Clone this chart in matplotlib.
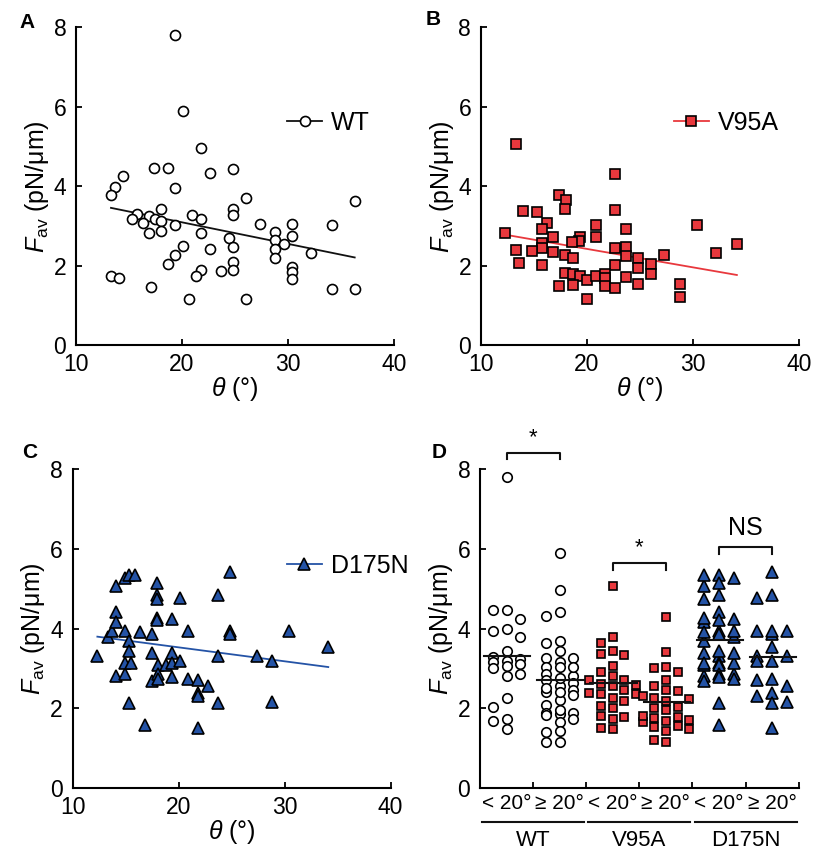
import numpy as np
import matplotlib
matplotlib.use('Agg')
import matplotlib.pyplot as plt
from matplotlib.lines import Line2D
from matplotlib import transforms

plt.rcParams['font.family'] = ['Liberation Sans', 'DejaVu Sans']
plt.rcParams['mathtext.fontset'] = 'custom'
plt.rcParams['mathtext.rm'] = 'Liberation Sans'
plt.rcParams['mathtext.it'] = 'Liberation Sans:italic'

# ── Data (theta in degrees, F_av in pN/um) ─────────────────────────────────
wt_theta = [19.33, 20.08, 21.75, 17.38, 18.64, 22.69, 24.83, 14.43, 13.68, 13.30,
            19.36, 26.02, 36.30, 17.98, 15.78, 15.28, 16.85, 17.45, 16.28, 17.98,
            16.85, 17.98, 19.36, 20.90, 21.75, 21.75, 24.83, 24.83, 27.34, 30.39,
            34.13, 28.82, 28.82, 29.60, 28.82, 28.82, 30.39, 24.45, 24.83, 22.69,
            20.08, 19.36, 18.64, 32.15, 21.84, 21.37, 23.73, 24.83, 24.83, 30.39,
            30.39, 30.39, 13.30, 14.05, 17.10, 20.71, 26.02, 34.13, 36.30]
wt_force = [7.81, 5.90, 4.97, 4.46, 4.46, 4.33, 4.42, 4.25, 3.99, 3.78,
            3.95, 3.69, 3.63, 3.43, 3.29, 3.18, 3.25, 3.17, 3.07, 3.12,
            2.82, 2.86, 3.02, 3.27, 3.17, 2.82, 3.43, 3.27, 3.04, 3.05,
            3.03, 2.85, 2.64, 2.55, 2.41, 2.20, 2.75, 2.70, 2.47, 2.42,
            2.50, 2.26, 2.04, 2.33, 1.88, 1.73, 1.87, 2.09, 1.88, 1.96,
            1.83, 1.66, 1.74, 1.68, 1.47, 1.15, 1.15, 1.40, 1.42]

v95a_theta = [13.30, 22.63, 17.35, 18.00, 17.95, 14.00, 15.31, 22.63, 16.25, 15.72,
              12.29, 20.84, 20.84, 23.67, 30.36, 16.82, 19.33, 19.27, 18.58, 15.72,
              15.72, 13.30, 14.80, 16.82, 17.95, 18.64, 22.63, 23.67, 23.67, 24.80,
              24.80, 26.00, 26.00, 27.28, 32.15, 13.61, 15.72, 22.63, 17.95, 18.64,
              19.33, 20.02, 20.84, 21.72, 21.72, 21.72, 22.63, 23.67, 24.80, 17.35,
              18.64, 20.02, 28.76, 28.76, 34.15]
v95a_force = [5.06, 4.30, 3.78, 3.65, 3.43, 3.37, 3.34, 3.41, 3.07, 2.91,
              2.81, 3.02, 2.72, 2.92, 3.03, 2.72, 2.71, 2.62, 2.59, 2.57,
              2.45, 2.39, 2.36, 2.35, 2.27, 2.19, 2.44, 2.47, 2.24, 2.19,
              1.95, 2.03, 1.78, 2.26, 2.32, 2.07, 2.01, 2.01, 1.82, 1.78,
              1.73, 1.65, 1.75, 1.80, 1.68, 1.49, 1.43, 1.72, 1.53, 1.49,
              1.51, 1.16, 1.55, 1.21, 2.55]

d175n_theta = [12.33, 13.36, 13.68, 14.06, 14.06, 14.06, 14.06, 14.94, 14.94, 14.94,
               15.31, 15.88, 15.31, 15.31, 14.94, 15.47, 15.35, 16.35, 16.82, 17.45,
               17.45, 17.45, 17.99, 17.99, 17.99, 17.99, 17.99, 18.08, 18.08, 18.08,
               18.77, 19.34, 19.34, 19.34, 19.34, 20.13, 20.13, 20.85, 20.85, 21.79,
               21.79, 21.85, 21.79, 22.74, 23.74, 23.74, 23.74, 24.84, 24.84, 24.84,
               27.36, 28.84, 28.84, 30.44, 34.12]
d175n_force = [3.32, 3.80, 3.93, 4.43, 4.16, 5.08, 2.80, 2.87, 3.93, 5.27,
               5.35, 5.35, 3.68, 3.43, 3.15, 3.15, 2.13, 3.91, 1.59, 3.86,
               3.40, 2.68, 5.14, 4.85, 4.74, 4.26, 4.21, 3.09, 2.87, 2.73,
               3.09, 4.25, 3.39, 3.15, 2.78, 4.77, 3.20, 3.93, 2.73, 2.72,
               2.38, 2.30, 1.51, 2.55, 4.85, 3.32, 2.13, 5.41, 3.93, 3.86,
               3.32, 3.20, 2.17, 3.93, 3.53]

GROUPS = ['WT', 'V95A', 'D175N']
CAT_LABELS = ['< 20°', '≥ 20°']
THETA_SPLIT = 20
SIG_LABELS = ['*', '*', 'NS']

RED = '#e8383d'
BLUE = '#2453a6'

styles = {
    'WT': dict(marker='o', mfc='white', line='#111111', ms=7.2, ncols=3, spacing=0.25),
    'V95A': dict(marker='s', mfc=RED, line=RED, ms=6.8, ncols=5, spacing=0.22),
    'D175N': dict(marker='^', mfc=BLUE, line=BLUE, ms=8.5, ncols=3, spacing=0.28),
}
data = {
    'WT': (np.array(wt_theta), np.array(wt_force)),
    'V95A': (np.array(v95a_theta), np.array(v95a_force)),
    'D175N': (np.array(d175n_theta), np.array(d175n_force)),
}

TICK_FS = 16.5
LABEL_FS = 18


def style_axes(ax):
    for side in ['top', 'right']:
        ax.spines[side].set_visible(False)
    for side in ['left', 'bottom']:
        ax.spines[side].set_linewidth(1.5)
    ax.tick_params(direction='in', length=4, width=1.3, labelsize=TICK_FS, pad=6)
    ax.tick_params(axis='y', pad=7)
    ax.set_ylim(0, 8)
    ax.set_yticks([0, 2, 4, 6, 8])
    ax.set_ylabel(r'$F_{\rm av}$ (pN/μm)', fontsize=LABEL_FS, labelpad=2)


def column_offsets(values, ncols, spacing, min_gap):
    """Place points into columns so that close values don't sit on top of each other."""
    cols = [0]
    for k in range(1, ncols // 2 + 1):
        cols += [-k, k]
    placed = {c: [] for c in cols}
    xs = np.zeros(len(values))
    for i in np.argsort(values)[::-1]:
        v = values[i]
        chosen = None
        for c in cols:
            if all(abs(v - u) >= min_gap for u in placed[c]):
                chosen = c
                break
        if chosen is None:
            chosen = max(cols, key=lambda c: min(abs(v - u) for u in placed[c]))
        placed[chosen].append(v)
        xs[i] = chosen * spacing
    return xs


fig = plt.figure(figsize=(8.13, 8.5), dpi=100)

scatter_pos = {
    'WT': [0.0935, 0.594, 0.391, 0.374],
    'V95A': [0.5916, 0.594, 0.391, 0.374],
    'D175N': [0.0894, 0.0729, 0.391, 0.375],
}
legend_anchor = {'WT': (0.664, 0.698), 'V95A': (0.607, 0.698), 'D175N': (0.674, 0.696)}
panel_letters = {'WT': ('A', 0.024, 0.973), 'V95A': ('B', 0.523, 0.977),
                 'D175N': ('C', 0.027, 0.468)}

# ── Panels A-C: scatter + linear fit ────────────────────────────────────────
for g in GROUPS:
    st = styles[g]
    th, fv = data[g]
    ax = fig.add_axes(scatter_pos[g])
    style_axes(ax)
    ax.plot(th, fv, ls='none', marker=st['marker'], ms=st['ms'], mfc=st['mfc'],
            mec='black', mew=1.2, zorder=3, clip_on=False)
    slope, icpt = np.polyfit(th, fv, 1)
    xx = np.array([th.min(), th.max()])
    ax.plot(xx, slope * xx + icpt, color=st['line'], lw=1.3, zorder=2)
    ax.set_xlim(10, 40)
    ax.set_xticks([10, 20, 30, 40])
    ax.set_xlabel(r'$\theta$ (°)', fontsize=LABEL_FS, labelpad=-1)
    handle = Line2D([], [], color=st['line'], lw=1.3, marker=st['marker'],
                    ms=st['ms'], mfc=st['mfc'], mec='black', mew=1.2)
    ax.legend([handle], [g], loc='center left', bbox_to_anchor=legend_anchor[g],
              frameon=False, fontsize=LABEL_FS, handlelength=1.4, handletextpad=0.35,
              borderpad=0, borderaxespad=0)
    letter, lx, ly = panel_letters[g]
    fig.text(lx, ly, letter, fontsize=15, fontweight='bold', va='center')

# ── Panel D: column scatter split at 20 degrees ─────────────────────────────
axd = fig.add_axes([0.5904, 0.0729, 0.392, 0.375])
style_axes(axd)
axd.set_xlim(0, 6)
axd.set_xticks(np.arange(7))
axd.set_xticklabels([])
axd.set_xticks(np.arange(6) + 0.5, minor=True)
axd.set_xticklabels(CAT_LABELS * 3, minor=True, fontsize=15)
axd.tick_params(axis='x', which='minor', length=0, pad=4)

for gi, g in enumerate(GROUPS):
    st = styles[g]
    th, fv = data[g]
    for ci, mask in enumerate([th < THETA_SPLIT, th >= THETA_SPLIT]):
        vals = fv[mask]
        center = gi * 2 + ci + 0.5
        xs = center + column_offsets(vals, st['ncols'], st['spacing'], 0.24)
        axd.plot(xs, vals, ls='none', marker=st['marker'], ms=st['ms'] * 0.95,
                 mfc=st['mfc'], mec='black', mew=1.2, zorder=3, clip_on=False)
        axd.plot([center - 0.42, center + 0.45], [vals.mean()] * 2, color='#111111',
                 lw=1.5, zorder=4)

# significance brackets
bracket_y = [8.42, 5.64, 6.04]
for gi, (lab, by) in enumerate(zip(SIG_LABELS, bracket_y)):
    x0, x1 = gi * 2 + 0.5, gi * 2 + 1.5
    axd.plot([x0, x0, x1, x1], [by - 0.16, by, by, by - 0.16], color='#111111',
             lw=1.5, clip_on=False)
    if lab == '*':
        axd.text((x0 + x1) / 2, by + 0.12, lab, ha='center', va='bottom', fontsize=16)
    else:
        axd.text((x0 + x1) / 2, by + 0.18, lab, ha='center', va='bottom', fontsize=LABEL_FS)

# group underlines and names
trans = transforms.blended_transform_factory(axd.transData, axd.transAxes)
for gi, g in enumerate(GROUPS):
    axd.plot([gi * 2 + 0.04, gi * 2 + 1.96], [-0.107, -0.107], color='#111111', lw=1.5,
             transform=trans, clip_on=False)
    axd.text(gi * 2 + 1, -0.165, g, transform=trans, ha='center', va='center',
             fontsize=16)

fig.text(0.531, 0.468, 'D', fontsize=15, fontweight='bold', va='center')

fig.savefig('out.png', dpi=100)
